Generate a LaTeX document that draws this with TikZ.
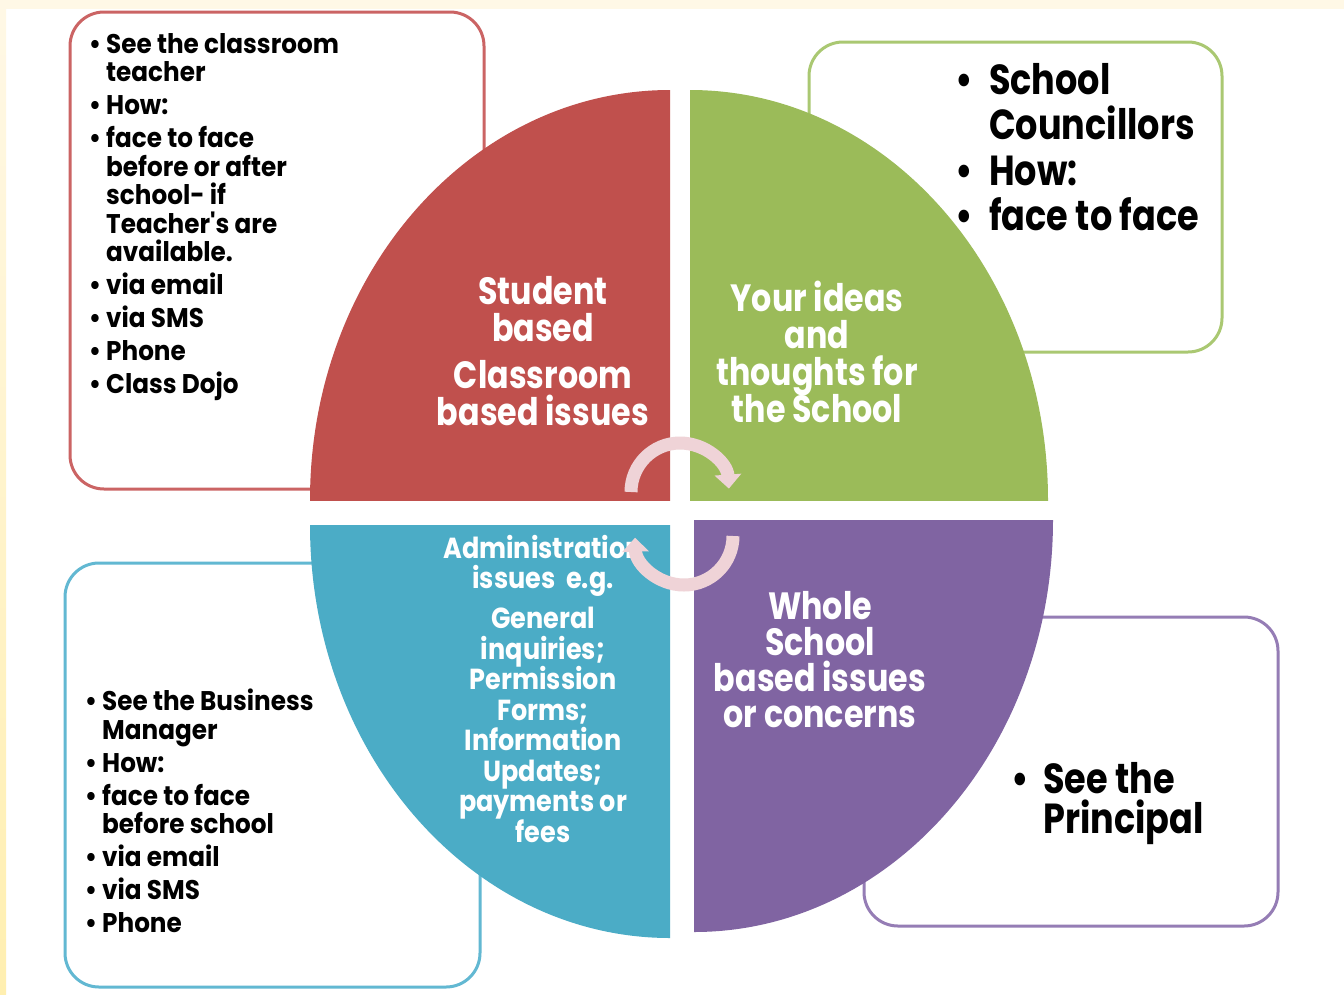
\documentclass[tikz,border=0pt]{standalone}
\usepackage{fontspec}
\newfontfamily\sfont{Poppins}[FakeStretch=0.915]
\newfontfamily\afont{Poppins}[FakeStretch=0.88]
\newfontfamily\lfont{Poppins}[FakeStretch=0.835]
\usetikzlibrary{arrows.meta}
\definecolor{qred}{HTML}{C0504D}
\definecolor{qgreen}{HTML}{9BBB59}
\definecolor{qteal}{HTML}{4BACC6}
\definecolor{qpurple}{HTML}{8064A2}
\definecolor{bred}{HTML}{CB6464}
\definecolor{bgreen}{HTML}{AAC872}
\definecolor{bteal}{HTML}{62B8D2}
\definecolor{bpurple}{HTML}{957DB5}
\definecolor{apink}{HTML}{EFD3D7}
\definecolor{bgtop}{HTML}{FFF8E6}
\definecolor{bgbot}{HTML}{FFEFB0}
\begin{document}
\setlength{\lineskiplimit}{-50pt}
\begin{tikzpicture}[x=1pt,y=-1pt,
  box/.style={line width=3pt, rounded corners=34pt, fill=white},
  boxtext/.style={anchor=north west, inner sep=0pt, align=left, text=black,
    font=\sfont\bfseries\fontsize{27}{28.5}\selectfont},
  bigtext/.style={anchor=north west, inner sep=0pt, align=left, text=black,
    font=\lfont\bfseries\fontsize{42}{45.5}\selectfont},
  quadtext/.style={anchor=north, inner sep=0pt, align=center, text=white,
    font=\lfont\bfseries\fontsize{38}{37}\selectfont},
  admintext/.style={anchor=north, inner sep=0pt, align=center, text=white,
    font=\afont\bfseries\fontsize{29}{30.5}\selectfont},
  arr/.style={line width=13pt, draw=apink, -{Triangle[width=26pt,length=14pt]}}
]
\useasboundingbox (0,0) rectangle (1344,994);
\fill[white] (0,0) rectangle (1344,994);
\shade[top color=bgtop, bottom color=bgbot] (0,0) rectangle (6,994);
\fill[bgtop] (0,0) rectangle (1344,9);

% side boxes
\draw[box, draw=bred] (70,12) rectangle (484,489);
\draw[box, draw=bgreen] (809,42) rectangle (1222,352);
\draw[box, draw=bteal] (65,563) rectangle (480,987);
\draw[box, draw=bpurple] (864,617) rectangle (1278,926);

% quadrants
\begin{scope}
  \clip (300,80) rectangle (670,500);
  \fill[qred] (670,500) ellipse [x radius=360, y radius=410];
\end{scope}
\begin{scope}
  \clip (690,80) rectangle (1060,500);
  \fill[qgreen] (690,500) ellipse [x radius=358, y radius=410];
\end{scope}
\begin{scope}
  \clip (300,525) rectangle (670,950);
  \fill[qteal] (670,525) ellipse [x radius=360, y radius=413];
\end{scope}
\begin{scope}
  \clip (694,520) rectangle (1060,950);
  \fill[qpurple] (694,520) ellipse [x radius=359, y radius=412];
\end{scope}

% box texts
\node[boxtext] (redlist) at (106,33) {%
\llap{•\hspace{5pt}}See the classroom\\teacher\\[4.5pt]
\llap{•\hspace{5pt}}How:\\[4.5pt]
\llap{•\hspace{5pt}}face to face\\before or after\\school- if\\Teacher's are\\available.\\[4.5pt]
\llap{•\hspace{5pt}}via email\\[4.5pt]
\llap{•\hspace{5pt}}via SMS\\[4.5pt]
\llap{•\hspace{5pt}}Phone\\[4.5pt]
\llap{•\hspace{5pt}}Class Dojo};

\node[boxtext] (teallist) at (102,689) {%
\llap{•\hspace{5pt}}See the Business\\Manager\\[4.5pt]
\llap{•\hspace{5pt}}How:\\[4.5pt]
\llap{•\hspace{5pt}}face to face\\before school\\[4.5pt]
\llap{•\hspace{5pt}}via email\\[4.5pt]
\llap{•\hspace{5pt}}via SMS\\[4.5pt]
\llap{•\hspace{5pt}}Phone};

\node[bigtext] (greenlist) at (989,63) {%
\llap{•\hspace{16pt}}School\\Councillors\\
\llap{•\hspace{16pt}}How:\\
\llap{•\hspace{16pt}}face to face};

\node[bigtext, font=\lfont\bfseries\fontsize{42}{40}\selectfont] (purplelist) at (1043,762) {%
\llap{•\hspace{14pt}}See the\\Principal};

% quadrant texts
\node[quadtext] (redq) at (543,276) {Student\\based\\[10pt]Classroom\\based issues};
\node[quadtext] (greenq) at (817,281) {Your ideas\\and\\thoughts for\\the School};
\node[quadtext, font=\lfont\bfseries\fontsize{38}{36}\selectfont] (purpleq) at (820,591) {Whole\\School\\based issues\\or concerns};
\node[admintext] (tealq) at (543,535) {Administration\\issues~~e.g.\\[9.5pt]General\\inquiries;\\Permission\\Forms;\\Information\\Updates;\\payments or\\fees};

% cycle arrows
\coordinate (upstart) at (631,492);
\coordinate (lowstart) at (733,536);
\draw[arr] (upstart) arc[start angle=180, end angle=356, radius=49];
\draw[arr] (lowstart) arc[start angle=0, end angle=178, radius=49];
\end{tikzpicture}
\end{document}
